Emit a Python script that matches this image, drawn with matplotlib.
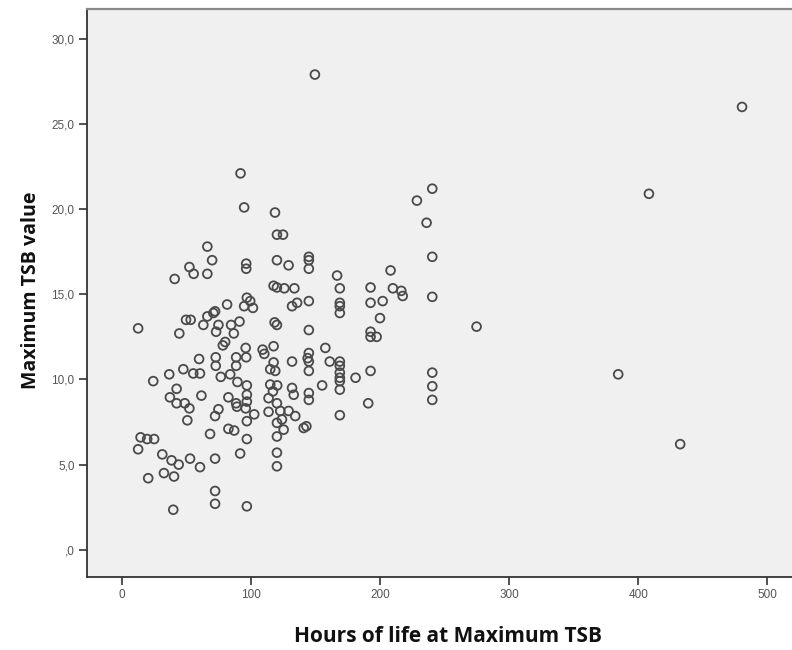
import matplotlib
matplotlib.use("Agg")
import matplotlib.pyplot as plt
from matplotlib.ticker import FixedLocator, FixedFormatter

hours = [
    149.5, 480.3, 408.2, 91.9, 240.4, 228.5, 236.0, 240.4, 240.4,
    274.7, 384.4, 432.4,
    94.7, 118.6, 120.1, 66.2, 69.9, 52.3, 55.6, 66.2, 40.9, 96.3, 96.3, 120.1,
    117.5, 120.1, 81.5, 72.2, 70.9, 96.8, 99.4, 94.7, 101.5, 49.7, 53.3, 66.2,
    63.1, 74.8, 73.0, 84.6, 86.7, 91.1, 12.6, 44.5, 118.3, 120.1, 80.0, 78.2,
    95.9, 109.0, 110.3, 117.5, 59.8, 72.7, 72.7, 88.5, 96.3, 88.5, 117.5, 114.9,
    118.8, 36.7, 47.6, 55.3, 60.5, 24.3,
    76.6, 83.9, 89.5, 96.8, 42.4, 37.2, 42.4, 48.7, 52.3, 50.7, 61.6, 82.5,
    88.5, 89.1, 74.8, 72.2, 96.8, 96.8, 95.9, 102.5, 96.8, 114.9, 113.6, 113.6,
    120.1, 120.1, 120.1, 117.0, 68.3, 82.5, 87.0, 96.8, 14.5, 19.6, 25.0, 12.6,
    31.3, 38.5, 44.0, 52.8, 60.5, 72.2, 91.6, 120.1, 120.1, 32.6, 40.4, 20.4,
    72.2, 72.2, 96.8, 39.8,
    124.8, 129.1, 144.8, 144.8, 144.8, 166.7, 208.1, 125.8, 133.6, 168.8, 192.6,
    209.9, 216.4, 217.5, 144.8, 135.7, 131.8, 168.8, 168.8, 168.8, 192.6, 202.0,
    199.9, 192.6, 192.6, 197.3, 144.8, 157.6, 144.8, 143.9, 144.8, 131.8, 161.0,
    168.8, 168.8, 168.8, 192.6, 240.4, 181.0,
    144.8, 168.8, 240.4, 240.4, 120.3, 131.8, 133.1, 144.8, 144.8, 155.1, 168.8,
    168.8, 190.8, 168.8, 122.7, 129.1, 134.3, 124.0, 125.3, 140.8, 142.9,
]
tsb = [
    27.9, 26.0, 20.9, 22.1, 21.2, 20.5, 19.2, 17.2, 14.85,
    13.1, 10.3, 6.2,
    20.1, 19.8, 18.5, 17.8, 17.0, 16.6, 16.2, 16.2, 15.9, 16.8, 16.5, 17.0,
    15.5, 15.4, 14.4, 14.0, 13.9, 14.8, 14.6, 14.3, 14.2, 13.5, 13.5, 13.7,
    13.2, 13.2, 12.8, 13.2, 12.7, 13.4, 13.0, 12.7, 13.35, 13.2, 12.2, 12.0,
    11.85, 11.75, 11.5, 11.95, 11.2, 11.3, 10.8, 11.3, 11.3, 10.8, 11.0, 10.6,
    10.5, 10.3, 10.6, 10.35, 10.35, 9.9,
    10.15, 10.3, 9.85, 9.65, 9.45, 8.95, 8.6, 8.6, 8.3, 7.6, 9.05, 8.95,
    8.6, 8.4, 8.25, 7.85, 9.1, 8.7, 8.3, 7.95, 7.55, 9.7, 8.9, 8.1,
    8.6, 7.45, 6.65, 9.3, 6.8, 7.1, 7.0, 6.5, 6.6, 6.5, 6.5, 5.9,
    5.6, 5.25, 5.0, 5.35, 4.85, 5.35, 5.65, 5.7, 4.9, 4.5, 4.3, 4.2,
    3.45, 2.7, 2.55, 2.35,
    18.5, 16.7, 17.2, 17.0, 16.5, 16.1, 16.4, 15.35, 15.35, 15.35, 15.4,
    15.35, 15.2, 14.9, 14.6, 14.5, 14.3, 14.5, 14.3, 13.9, 14.5, 14.6,
    13.6, 12.8, 12.5, 12.5, 12.9, 11.85, 11.55, 11.25, 11.05, 11.05, 11.05,
    11.05, 10.8, 10.4, 10.5, 10.4, 10.1,
    10.5, 10.1, 9.6, 8.8, 9.65, 9.5, 9.1, 9.2, 8.8, 9.65, 9.9,
    9.4, 8.6, 7.9, 8.15, 8.15, 7.85, 7.65, 7.05, 7.15, 7.25,
]

x_ticks = [0, 100, 200, 300, 400, 500]
x_tick_labels = ["0", "100", "200", "300", "400", "500"]
y_ticks = [0, 5, 10, 15, 20, 25, 30]
y_tick_labels = [",0", "5,0", "10,0", "15,0", "20,0", "25,0", "30,0"]

W, H = 792, 650
fig = plt.figure(figsize=(W / 100, H / 100), dpi=100)
fig.patch.set_facecolor("white")

left_px, right_px, top_px, bottom_px = 87, 792, 9, 577
ax = fig.add_axes([left_px / W, 1 - bottom_px / H, (right_px - left_px) / W, (bottom_px - top_px) / H])
ax.set_facecolor("#f0f0f0")

ax.scatter(hours, tsb, s=40, facecolors="none", edgecolors="#4a4a4a", linewidths=1.3, zorder=3)

ax.set_xlim(-27.0, 519.0)
ax.set_ylim(-1.6, 31.75)

ax.xaxis.set_major_locator(FixedLocator(x_ticks))
ax.xaxis.set_major_formatter(FixedFormatter(x_tick_labels))
ax.yaxis.set_major_locator(FixedLocator(y_ticks))
ax.yaxis.set_major_formatter(FixedFormatter(y_tick_labels))

tick_font = ["Liberation Sans Narrow", "Liberation Sans", "DejaVu Sans"]
ax.tick_params(axis="both", direction="out", length=6, width=1.2, color="#333333",
               labelsize=8.5, labelcolor="#555555", pad=3)
for lab in ax.get_xticklabels() + ax.get_yticklabels():
    lab.set_family(tick_font)

for side in ["left", "bottom"]:
    ax.spines[side].set_color("#333333")
    ax.spines[side].set_linewidth(1.3)
ax.spines["top"].set_color("#888888")
ax.spines["top"].set_linewidth(1.6)
ax.spines["right"].set_visible(False)

label_font = ["Open Sans", "DejaVu Sans"]
fig.text(448 / W, 1 - 642 / H, "Hours of life at Maximum TSB", ha="center", va="baseline",
         fontsize=15, fontweight="bold", family=label_font, color="#111111")
fig.text(31 / W, 1 - 290 / H, "Maximum TSB value", ha="center", va="center", rotation=90,
         fontsize=14, fontweight="bold", family=label_font, color="#111111")

fig.savefig("out.png", dpi=100, facecolor="white")
